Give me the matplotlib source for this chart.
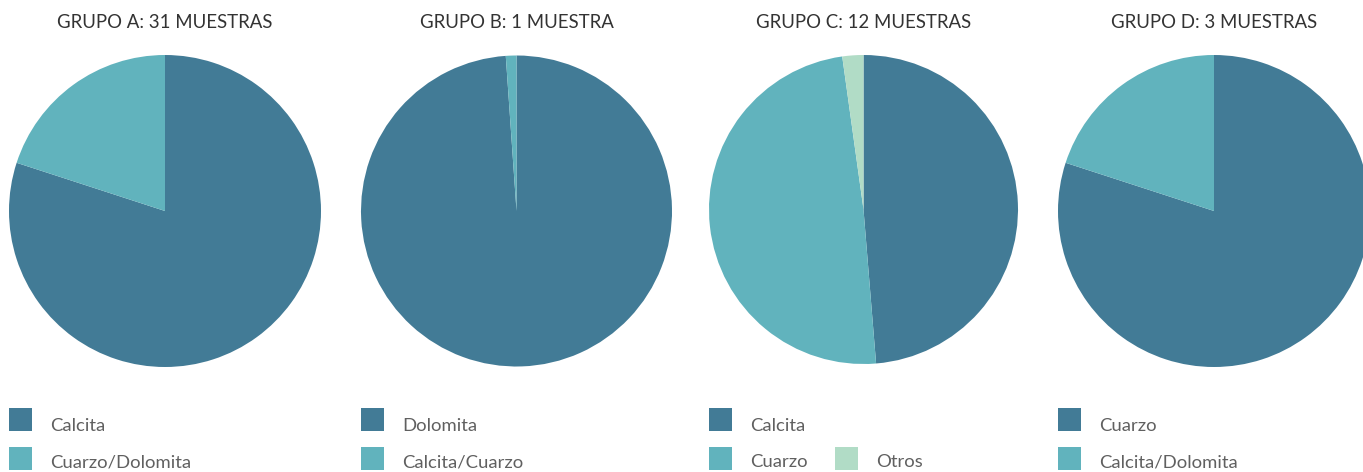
import matplotlib.pyplot as plt
from matplotlib.patches import Rectangle

# data
titles = ["GRUPO A: 31 MUESTRAS", "GRUPO B: 1 MUESTRA",
          "GRUPO C: 12 MUESTRAS", "GRUPO D: 3 MUESTRAS"]
labels_a = ["Calcita", "Cuarzo/Dolomita"]
values_a = [80, 20]
labels_b = ["Dolomita", "Calcita/Cuarzo"]
values_b = [98.9, 1.1]
labels_c = ["Calcita", "Cuarzo", "Otros"]
values_c = [48.7, 49.1, 2.2]
labels_d = ["Cuarzo", "Calcita/Dolomita"]
values_d = [80, 20]

colors = ["#427b96", "#61b3bd", "#b1dcc6"]

W, H = 1363, 472
fig = plt.figure(figsize=(W / 100, H / 100), dpi=100)
ax = fig.add_axes([0, 0, 1, 1])

font = "Lato"
groups = [(labels_a, values_a), (labels_b, values_b),
          (labels_c, values_c), (labels_d, values_d)]
centers = [165, 516.5, 863.5, 1214]
radii = [156, 155.5, 154.5, 156]
cys = [211, 211, 209.5, 211]

for i, (labs, vals) in enumerate(groups):
    cx, r = centers[i], radii[i]
    ax.pie(vals, colors=colors[:len(vals)], startangle=90, counterclock=False,
           center=(cx, H - cys[i]), radius=r, wedgeprops=dict(linewidth=0))
    ax.text(cx, H - 28, titles[i], ha="center", va="baseline",
            fontsize=13.4, color="#333333", family=font)
    # legend, first item on top row, the rest on the second row
    left = cx - r
    pos = [(left, 0)] + [(left + 126 * k, 1) for k in range(len(labs) - 1)]
    for (x, row), lab, col in zip(pos, labs, colors):
        ytop = 408 + 39 * row
        ax.add_patch(Rectangle((x, H - ytop - 23), 23, 23, color=col, lw=0))
        ax.text(x + 41, H - (431 + 36 * row), lab, ha="left", va="baseline",
                fontsize=13.3, color="#606060", family=font)

ax.set_xlim(0, W)
ax.set_ylim(0, H)
ax.set_aspect("auto")
ax.axis("off")

fig.savefig("out.png", dpi=100)
